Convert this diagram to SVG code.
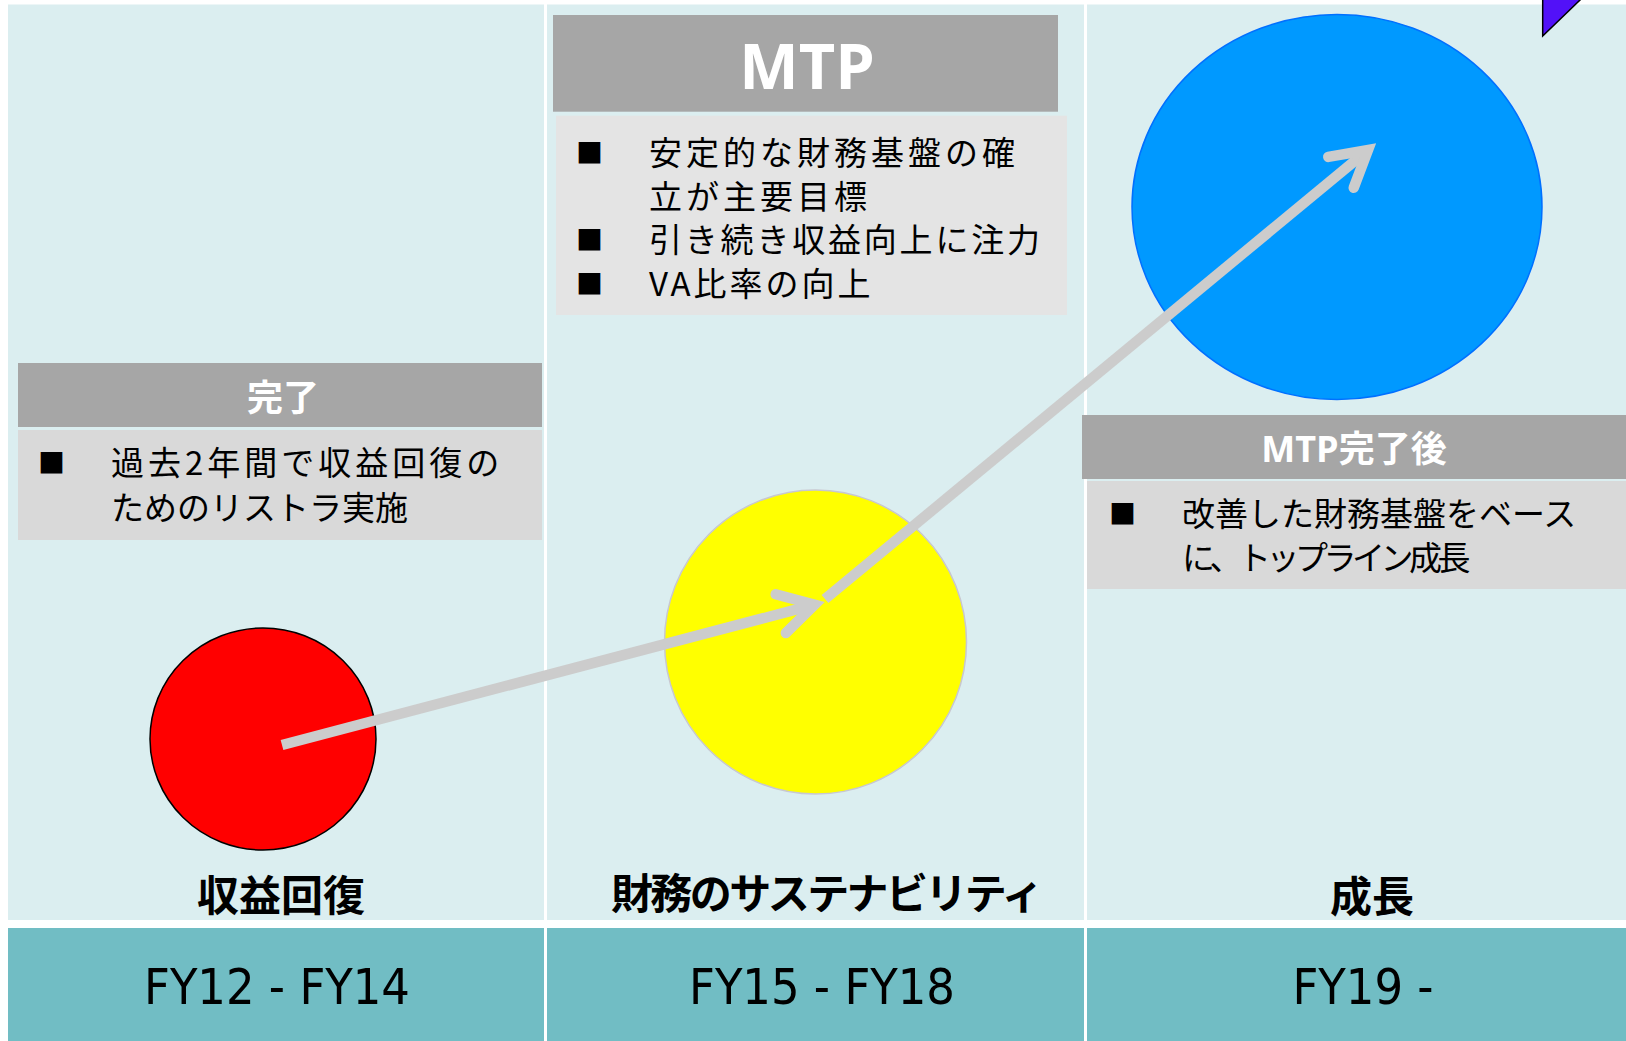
<svg xmlns="http://www.w3.org/2000/svg" width="1626" height="1041" viewBox="0 0 1626 1041">
<style>
.panel{fill:#DBEEF0}
.teal{fill:#71BDC4}
.hdr{fill:#A6A6A6}
.box{fill:#D9D9D9}
.box2{fill:#E4E4E4}
.hdrtxt{font-family:"Open Sans","Noto Sans CJK JP",sans-serif;font-weight:700;fill:#FFFFFF;text-anchor:middle}
.body{font-family:"Noto Sans CJK JP",sans-serif;font-size:33px;fill:#000000}
.bul{font-family:"Noto Sans CJK JP",sans-serif;font-size:27px;fill:#000000}
.lbl{font-family:"Noto Sans CJK JP",sans-serif;font-weight:700;font-size:42px;fill:#000000;text-anchor:middle}
.fy{font-family:"DejaVu Sans Condensed","DejaVu Sans",sans-serif;font-stretch:condensed;font-size:50px;fill:#000000;text-anchor:middle}
.conn{fill:none;stroke:#CCCCCC;stroke-width:10.5;stroke-linecap:butt}
</style>
<defs>
<marker id="chev" markerUnits="userSpaceOnUse" viewBox="-50 -30 60 60" markerWidth="60" markerHeight="60" refX="0" refY="0" orient="auto" overflow="visible">
<path d="M-35,-20 L0,0 L-35,20" fill="none" stroke="#CCCCCC" stroke-width="10.5" stroke-linecap="round" stroke-linejoin="miter"/>
</marker>
</defs>
<rect x="0" y="0" width="1626" height="1041" fill="#FFFFFF"/>
<g id="columns">
<rect class="panel" x="8" y="4.5" width="536" height="915.5"/>
<rect class="panel" x="547" y="4.5" width="537" height="915.5"/>
<rect class="panel" x="1087" y="4.5" width="539" height="915.5"/>
</g>
<g id="period-fy12-fy14">
<rect class="teal" x="8" y="928" width="536" height="113"/>
<text class="fy" x="277" y="1004">FY12 - FY14</text>
</g>
<g id="period-fy15-fy18">
<rect class="teal" x="547" y="928" width="537" height="113"/>
<text class="fy" x="822" y="1004">FY15 - FY18</text>
</g>
<g id="period-fy19">
<rect class="teal" x="1087" y="928" width="539" height="113"/>
<text class="fy" x="1363" y="1004">FY19 -</text>
</g>
<g id="corner-mark">
<polygon points="1542.7,-10 1590.4,-10 1542.7,36" fill="#5211F8" stroke="#000000" stroke-width="1.5"/>
</g>
<g id="box-kanryo">
<rect class="hdr" x="18" y="363" width="524" height="64"/>
<text class="hdrtxt" x="283" y="411" font-size="36">完了</text>
<rect class="box" x="18" y="430" width="524" height="110"/>
<text class="bul" x="38" y="473">■</text>
<text class="body"><tspan x="111" y="475" letter-spacing="4">過去2年間で収益回復の</tspan><tspan x="111" y="520" letter-spacing="0">ためのリストラ実施</tspan></text>
</g>
<g id="box-mtp">
<rect class="hdr" x="553" y="15" width="505" height="96.7"/>
<text class="hdrtxt" x="807" y="88.5" font-size="63">MTP</text>
<rect class="box2" x="556" y="115.7" width="511" height="199.3"/>
<text class="bul" x="576" y="163">■</text>
<text class="body"><tspan x="649" y="165" letter-spacing="4">安定的な財務基盤の確</tspan><tspan x="649" y="208.5" letter-spacing="4">立が主要目標</tspan></text>
<text class="bul" x="576" y="250">■</text>
<text class="body" x="649" y="252" letter-spacing="2.8">引き続き収益向上に注力</text>
<text class="bul" x="576" y="293.5">■</text>
<text class="body" x="649" y="295.5" letter-spacing="3">VA比率の向上</text>
</g>
<g id="box-mtp-after">
<rect class="hdr" x="1082" y="415" width="544" height="64"/>
<text class="hdrtxt" x="1354" y="462" font-size="36">MTP完了後</text>
<rect class="box" x="1087" y="481" width="539" height="108"/>
<text class="bul" x="1109" y="524">■</text>
<text class="body"><tspan x="1182" y="526" letter-spacing="0">改善した財務基盤をベース</tspan><tspan x="1182" y="570" letter-spacing="-4.5">に、トップライン成長</tspan></text>
</g>
<g id="stage-recovery">
<ellipse cx="263" cy="739" rx="113" ry="111" fill="#FF0000" stroke="#000000" stroke-width="1.5"/>
<text class="lbl" x="281" y="911">収益回復</text>
</g>
<g id="stage-sustainability">
<ellipse cx="815.5" cy="642" rx="151" ry="152" fill="#FFFF00" stroke="#C8C8D0" stroke-width="1.5"/>
<text class="lbl" x="826" y="909" letter-spacing="-2.6">財務のサステナビリティ</text>
</g>
<g id="stage-growth">
<ellipse cx="1337" cy="207" rx="205" ry="192.5" fill="#0099FF" stroke="#0070FF" stroke-width="1.5"/>
<text class="lbl" x="1372" y="912">成長</text>
</g>
<g id="connectors">
<line class="conn" x1="282" y1="745" x2="814.6" y2="604.7" marker-end="url(#chev)"/>
<line class="conn" x1="825" y1="599" x2="1368" y2="150" marker-end="url(#chev)"/>
</g>
</svg>
